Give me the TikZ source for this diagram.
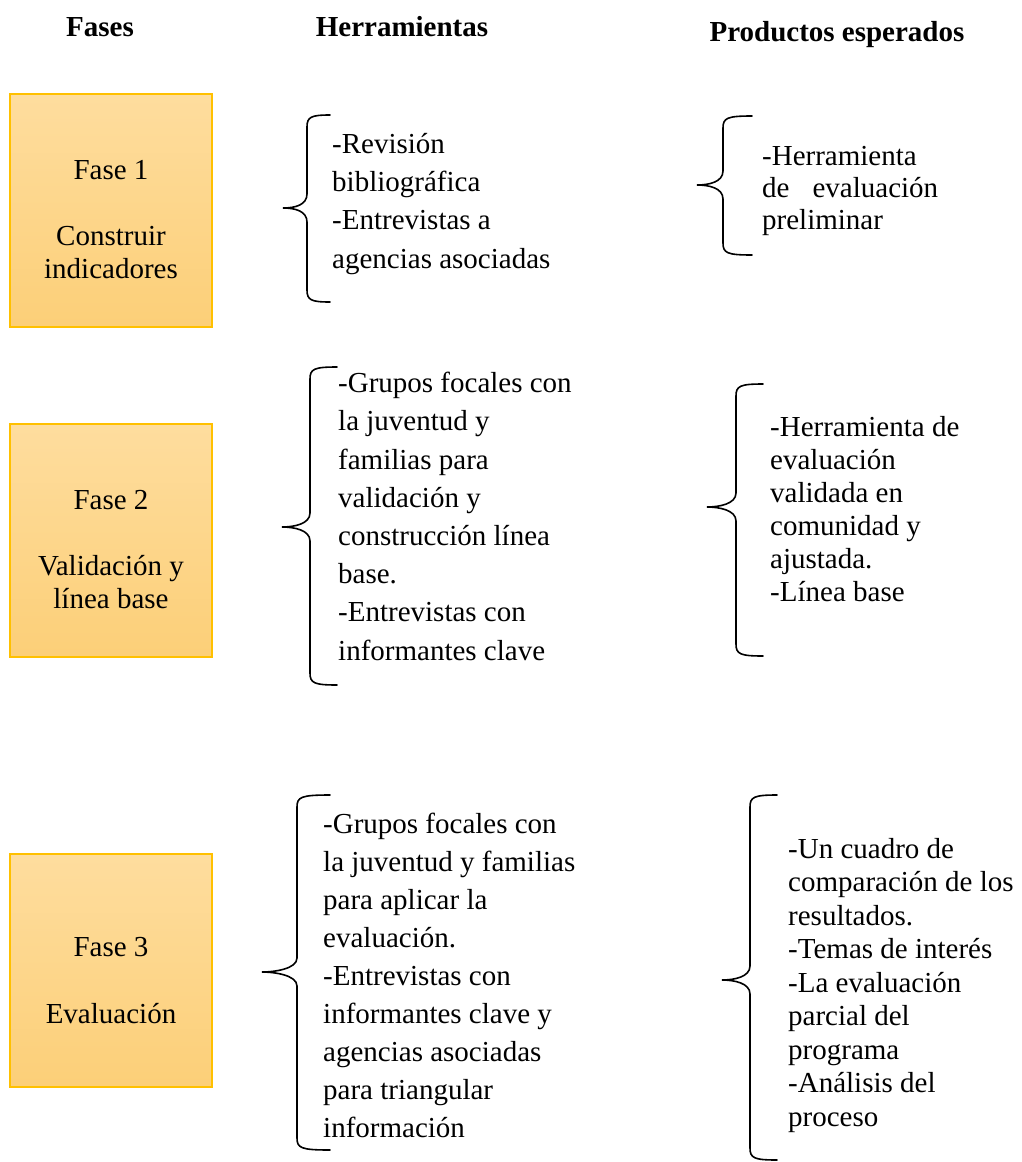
\documentclass[tikz,border=0pt]{standalone}
\usepackage{fontspec}
\setmainfont{Liberation Serif}
\usetikzlibrary{positioning}
\definecolor{faseborde}{RGB}{255,192,0}
\definecolor{fasearriba}{RGB}{254,221,158}
\definecolor{faseabajo}{RGB}{252,207,120}
% llave: x extremo, x lomo, x punta, y arriba, y punta, y abajo
\newcommand{\llave}[6]{%
  \draw[llavelinea] (#1,#4) .. controls (#2+4,#4) and (#2,#4+2) .. (#2,#4+12)
    -- (#2,#5-14) .. controls (#2,#5-3) and (#3+12,#5) .. (#3,#5)
    .. controls (#3+12,#5) and (#2,#5+3) .. (#2,#5+14)
    -- (#2,#6-12) .. controls (#2,#6-2) and (#2+4,#6) .. (#1,#6);}
\begin{document}
\begin{tikzpicture}[x=1pt,y=-1pt,
    titulo/.style={font=\fontsize{29}{34}\selectfont\bfseries, anchor=base, inner sep=0},
    fase/.style={draw=faseborde, line width=1.5pt, top color=fasearriba, bottom color=faseabajo,
      minimum width=202pt, minimum height=233pt, inner sep=0},
    textofase/.style={font=\fontsize{29}{33}\selectfont, align=center, anchor=base, inner sep=0},
    herr/.style={font=\fontsize{29}{38.2}\selectfont, align=left, anchor=base west, inner sep=0},
    prod/.style={font=\fontsize{29}{32.5}\selectfont, align=left, anchor=base west, inner sep=0},
    llavelinea/.style={line width=1.6pt, line cap=round}]
  \useasboundingbox (0,0) rectangle (1021,1162);
  % encabezados
  \node[titulo] (tfases) at (100,36) {Fases};
  \node[titulo] (therr) at (402,36) {Herramientas};
  \node[titulo] (tprod) at (837,41) {Productos esperados};
  % fases (texto anclado en la ultima linea)
  \node[fase] (fase1) at (111,210.5) {};
  \node[fase] (fase2) at (111,540.5) {};
  \node[fase] (fase3) at (111,970.5) {};
  \node[textofase] (txtfase1) at (111,278) {Fase 1\\[33pt]Construir\\indicadores};
  \node[textofase] (txtfase2) at (111,608) {Fase 2\\[33pt]Validación y\\línea base};
  \node[textofase] (txtfase3) at (111,1023) {Fase 3\\[34pt]Evaluación};
  % herramientas
  \llave{330}{307}{283}{115}{208}{302}
  \node[herr] (herr1) at (332,268) {-Revisión\\bibliográfica\\-Entrevistas a\\agencias asociadas};
  \llave{337}{310}{282}{367}{527}{685}
  \node[herr] (herr2) at (338,660) {-Grupos focales con\\la juventud y\\familias para\\validación y\\construcción línea\\base.\\-Entrevistas con\\informantes clave};
  \llave{330}{297}{262}{795}{972}{1150}
  \node[herr, font=\fontsize{29}{38}\selectfont] (herr3) at (323,1137) {-Grupos focales con\\la juventud y familias\\para aplicar la\\evaluación.\\-Entrevistas con\\informantes clave y\\agencias asociadas\\para triangular\\información};
  % productos
  \llave{752}{723}{697}{116}{185}{255}
  \node[prod, font=\fontsize{29}{32}\selectfont] (prod1) at (762,229) {-Herramienta\\\makebox[176pt][s]{de evaluación}\\preliminar};
  \llave{763}{736}{707}{384}{507}{656}
  \node[prod, font=\fontsize{29}{33}\selectfont] (prod2) at (770,601.5) {-Herramienta de\\evaluación\\validada en\\comunidad y\\ajustada.\\-Línea base};
  \llave{777}{750}{722}{795}{980}{1160}
  \node[prod, font=\fontsize{29}{33.5}\selectfont] (prod3) at (788,1126) {-Un cuadro de\\comparación de los\\resultados.\\-Temas de interés\\-La evaluación\\parcial del\\programa\\-Análisis del\\proceso};
\end{tikzpicture}
\end{document}
